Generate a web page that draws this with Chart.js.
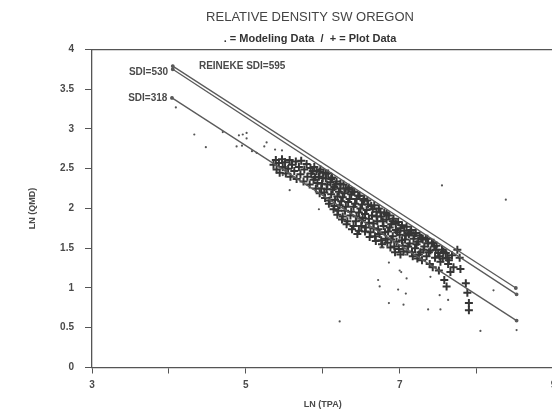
<!DOCTYPE html>
<html>
<head>
  <title>Relative Density SW Oregon</title>
  <script src="https://cdn.jsdelivr.net/npm/chart.js"></script>
  <style>
    body { margin: 0; background: #fff; overflow: hidden; }
    #wrap { width: 630px; height: 411px; }
  </style>
</head>
<body>
  <div id="wrap"><canvas id="chart" width="630" height="411"></canvas></div>

  <script>
    // x ticks: only odd values are labelled
    const xTickValues = [3, 4, 5, 6, 7, 8, 9];
    const xTickLabels = ['3', '', '5', '', '7', '', '9'];
    const yTickValues = [0, 0.5, 1, 1.5, 2, 2.5, 3, 3.5, 4];

    // "+" plot data, [ln(TPA), ln(QMD)]
    const plotData = [
      [5.36,2.55],[5.39,2.61],[5.40,2.49],[5.43,2.57],[5.44,2.45],[5.47,2.62],[5.48,2.52],[5.51,2.58],
      [5.52,2.44],[5.55,2.50],[5.57,2.61],[5.58,2.40],[5.60,2.55],[5.63,2.47],[5.65,2.59],[5.66,2.37],
      [5.69,2.52],[5.71,2.43],[5.72,2.60],[5.75,2.34],[5.76,2.49],[5.79,2.56],[5.80,2.40],[5.83,2.30],
      [5.84,2.51],[5.85,2.44],[5.88,2.36],[5.89,2.52],[5.91,2.25],[5.92,2.47],[5.95,2.40],[5.96,2.19],
      [5.97,2.49],[5.99,2.31],[6.01,2.45],[6.03,2.13],[6.04,2.38],[6.05,2.24],[6.07,2.44],[6.08,2.06],
      [6.10,2.33],[6.11,2.18],[6.12,2.39],[6.14,1.99],[6.15,2.27],[6.16,2.11],[6.18,2.34],[6.19,1.92],
      [6.21,2.21],[6.22,2.04],[6.23,2.31],[6.25,1.86],[6.26,2.14],[6.27,2.30],[6.29,1.97],[6.30,2.25],
      [6.31,1.80],[6.33,2.08],[6.34,2.26],[6.36,1.91],[6.37,2.18],[6.38,1.74],[6.40,2.02],[6.41,2.21],
      [6.43,1.84],[6.44,2.12],[6.45,1.68],[6.47,1.95],[6.48,2.16],[6.50,1.78],[6.51,2.05],[6.52,1.88],
      [6.54,2.12],[6.55,1.71],[6.57,1.98],[6.58,2.10],[6.60,1.82],[6.61,1.64],[6.63,2.03],[6.64,1.91],
      [6.66,1.75],[6.67,2.04],[6.69,1.59],[6.70,1.96],[6.71,1.84],[6.73,2.00],[6.74,1.68],[6.76,1.90],
      [6.77,1.55],[6.79,1.78],[6.80,1.95],[6.82,1.62],[6.83,1.86],[6.85,1.71],[6.86,1.91],[6.88,1.51],
      [6.89,1.80],[6.91,1.65],[6.92,1.87],[6.94,1.45],[6.95,1.73],[6.96,1.58],[6.98,1.83],[7.00,1.67],
      [7.01,1.42],[7.03,1.79],[7.04,1.53],[7.06,1.72],[7.07,1.61],[7.09,1.77],[7.10,1.46],[7.12,1.68],
      [7.13,1.56],[7.15,1.73],[7.17,1.40],[7.18,1.62],[7.20,1.50],[7.21,1.69],[7.23,1.37],[7.24,1.58],
      [7.26,1.66],[7.27,1.45],[7.29,1.35],[7.30,1.61],[7.32,1.52],[7.34,1.62],[7.35,1.40],[7.37,1.56],
      [7.39,1.30],[7.40,1.47],[7.42,1.57],[7.43,1.26],[7.45,1.52],[7.46,1.38],[7.48,1.53],[7.50,1.44],
      [7.51,1.22],[7.53,1.33],[7.55,1.48],[7.56,1.37],[7.58,1.10],[7.60,1.44],[7.61,1.02],[7.63,1.30],
      [7.64,1.35],[7.66,1.20],[7.68,1.41],[7.70,1.26],[7.75,1.48],[7.78,1.38],[7.79,1.24],
      [7.86,1.06],[7.88,0.94],[7.90,0.81],[7.90,0.72],
      [5.87,2.47],[5.90,2.39],[5.93,2.32],[5.96,2.46],[5.98,2.25],[6.00,2.38],[6.02,2.20],[6.04,2.44],
      [6.06,2.30],[6.09,2.10],[6.11,2.37],[6.13,2.24],[6.15,2.03],[6.17,2.30],[6.19,2.15],[6.20,1.97],
      [6.23,2.25],[6.24,2.09],[6.26,1.90],[6.28,2.19],[6.30,2.02],[6.32,1.84],[6.33,2.24],[6.35,2.12],
      [6.37,1.96],[6.39,2.21],[6.40,1.78],[6.42,2.06],[6.44,1.90],[6.46,2.16],[6.47,1.72],[6.49,2.00],
      [6.51,1.85],[6.53,2.10],[6.55,1.93],[6.56,1.76],[6.59,2.05],[6.60,1.87],[6.62,1.70],[6.65,1.99],
      [6.66,1.81],[6.68,1.65],[6.70,1.90],[6.72,1.74],[6.75,1.95],[6.76,1.60],[6.78,1.84],[6.81,1.70],
      [6.83,1.93],[6.84,1.57],[6.87,1.76],[6.89,1.61],[6.91,1.84],[6.93,1.52],[6.95,1.81],[6.97,1.70],
      [6.99,1.49],[7.01,1.75],[7.03,1.60],[7.05,1.46],[7.08,1.66],[7.11,1.52],[7.14,1.70],[7.16,1.45],
      [7.19,1.66],[7.22,1.55],[7.25,1.42],[7.28,1.63],[7.31,1.48],[7.36,1.62],[7.38,1.45],[7.44,1.57],
      [7.47,1.48],[7.52,1.40],[7.57,1.46],[7.62,1.38]
    ];

    // "." modeling data
    const modelData = [
      [4.09,3.27],[4.33,2.93],[4.48,2.77],[4.70,2.96],[4.88,2.78],[4.91,2.92],[4.96,2.93],
      [5.01,2.95],[5.01,2.88],[4.95,2.79],[5.08,2.72],[5.14,2.70],[5.27,2.83],[5.24,2.78],
      [5.38,2.74],[5.47,2.73],[5.48,2.42],[5.57,2.23],[5.95,1.99],[6.22,0.58],[6.79,1.51],
      [6.86,1.32],[7.00,1.22],[7.02,1.20],[6.72,1.10],[6.74,1.02],[7.09,1.12],[6.98,0.98],
      [7.08,0.93],[6.86,0.81],[7.05,0.79],[7.40,1.14],[7.52,0.91],[7.63,0.85],[7.37,0.73],
      [7.53,0.73],[8.05,0.46],[8.22,0.97],[8.52,0.47],[8.38,2.11],[7.55,2.29],[7.08,1.42],
      [6.75,1.51]
    ];

    // Reineke density lines, end points
    const sdi595 = [[4.05,3.79],[8.51,1.00]];
    const sdi530 = [[4.05,3.75],[8.52,0.92]];
    const sdi318 = [[4.04,3.39],[8.52,0.59]];

    const lineLabels = [
      { text: 'SDI=530', x: 3.99, y: 3.71, align: 'right' },
      { text: 'SDI=318', x: 3.98, y: 3.38, align: 'right' },
      { text: 'REINEKE SDI=595', x: 4.39, y: 3.79, align: 'left' }
    ];

    const toXY = arr => arr.map(p => ({ x: p[0], y: p[1] }));
    const ink = '#4a4a4a';
    const tickFont = { family: 'Liberation Sans', size: 10, weight: 'bold' };

    const labelPlugin = {
      id: 'lineLabels',
      afterDatasetsDraw(chart) {
        const { ctx, scales: { x, y } } = chart;
        ctx.save();
        ctx.font = 'bold 10px "Liberation Sans"';
        ctx.fillStyle = ink;
        ctx.textBaseline = 'middle';
        lineLabels.forEach(l => {
          ctx.textAlign = l.align;
          ctx.fillText(l.text, x.getPixelForValue(l.x), y.getPixelForValue(l.y));
        });
        ctx.restore();
      }
    };

    const lineSet = (label, pts) => ({
      type: 'line',
      label: label,
      data: toXY(pts),
      borderColor: '#5a5a5a',
      backgroundColor: '#5a5a5a',
      borderWidth: 1.3,
      pointRadius: 1.3,
      fill: false
    });

    new Chart(document.getElementById('chart'), {
      type: 'scatter',
      data: {
        datasets: [
          lineSet('SDI=595', sdi595),
          lineSet('SDI=530', sdi530),
          lineSet('SDI=318', sdi318),
          {
            label: 'Modeling Data',
            data: toXY(modelData),
            pointStyle: 'circle',
            pointRadius: 1.1,
            borderWidth: 0,
            backgroundColor: '#555'
          },
          {
            label: 'Plot Data',
            data: toXY(plotData),
            pointStyle: 'cross',
            pointRadius: 4,
            borderWidth: 2,
            borderColor: '#353535'
          }
        ]
      },
      options: {
        responsive: false,
        animation: false,
        layout: { padding: { left: 0, right: 10, top: 0, bottom: 0 } },
        plugins: {
          legend: { display: false },
          tooltip: { enabled: false },
          title: {
            display: true,
            text: 'RELATIVE DENSITY SW OREGON',
            color: '#444',
            font: { family: 'Liberation Sans', size: 13, weight: 'normal' },
            padding: { top: 9.5, bottom: 7.5 }
          },
          subtitle: {
            display: true,
            text: '. = Modeling Data  /  + = Plot Data',
            color: '#333',
            font: { family: 'Liberation Sans', size: 11, weight: 'bold' },
            padding: { top: 0, bottom: 3.6 }
          }
        },
        scales: {
          x: {
            type: 'linear',
            position: 'bottom',
            min: 3,
            max: 9,
            afterBuildTicks: s => { s.ticks = xTickValues.map(v => ({ value: v })); },
            afterFit: s => { s.height = 43.5; },
            ticks: {
              color: ink,
              font: tickFont,
              padding: 6,
              maxRotation: 0,
              callback: (v) => xTickLabels[xTickValues.indexOf(v)]
            },
            grid: { drawOnChartArea: false, drawTicks: true, tickLength: 6, tickColor: '#555' },
            border: { display: true, color: '#555', width: 1.3 },
            title: {
              display: true,
              text: 'LN (TPA)',
              color: ink,
              font: { family: 'Liberation Sans', size: 9, weight: 'bold' },
              padding: { top: 0, bottom: 0.6 }
            }
          },
          top: {
            type: 'linear',
            position: 'top',
            min: 3,
            max: 9,
            afterFit: s => { s.height = 0; },
            ticks: { display: false },
            grid: { display: false, drawTicks: false },
            border: { display: true, color: '#555', width: 1.3 }
          },
          y: {
            type: 'linear',
            min: 0,
            max: 4,
            afterBuildTicks: s => { s.ticks = yTickValues.map(v => ({ value: v })); },
            afterFit: s => { s.width = 92; },
            ticks: {
              color: ink,
              font: tickFont,
              padding: 11,
              callback: v => String(v)
            },
            grid: { drawOnChartArea: false, drawTicks: true, tickLength: 7, tickColor: '#555' },
            border: { display: true, color: '#555', width: 1.3 },
            title: {
              display: true,
              text: 'LN (QMD)',
              color: ink,
              font: { family: 'Liberation Sans', size: 9, weight: 'bold' },
              padding: { top: 27.6, bottom: 0 }
            }
          },
          // empty right-hand axis: keeps the plot running off the page edge
          right: {
            type: 'linear',
            position: 'right',
            min: 0,
            max: 4,
            afterFit: s => { s.width = 66.5; },
            ticks: { display: false },
            grid: { display: false, drawTicks: false },
            border: { display: false }
          }
        }
      },
      plugins: [labelPlugin]
    });
  </script>
</body>
</html>
